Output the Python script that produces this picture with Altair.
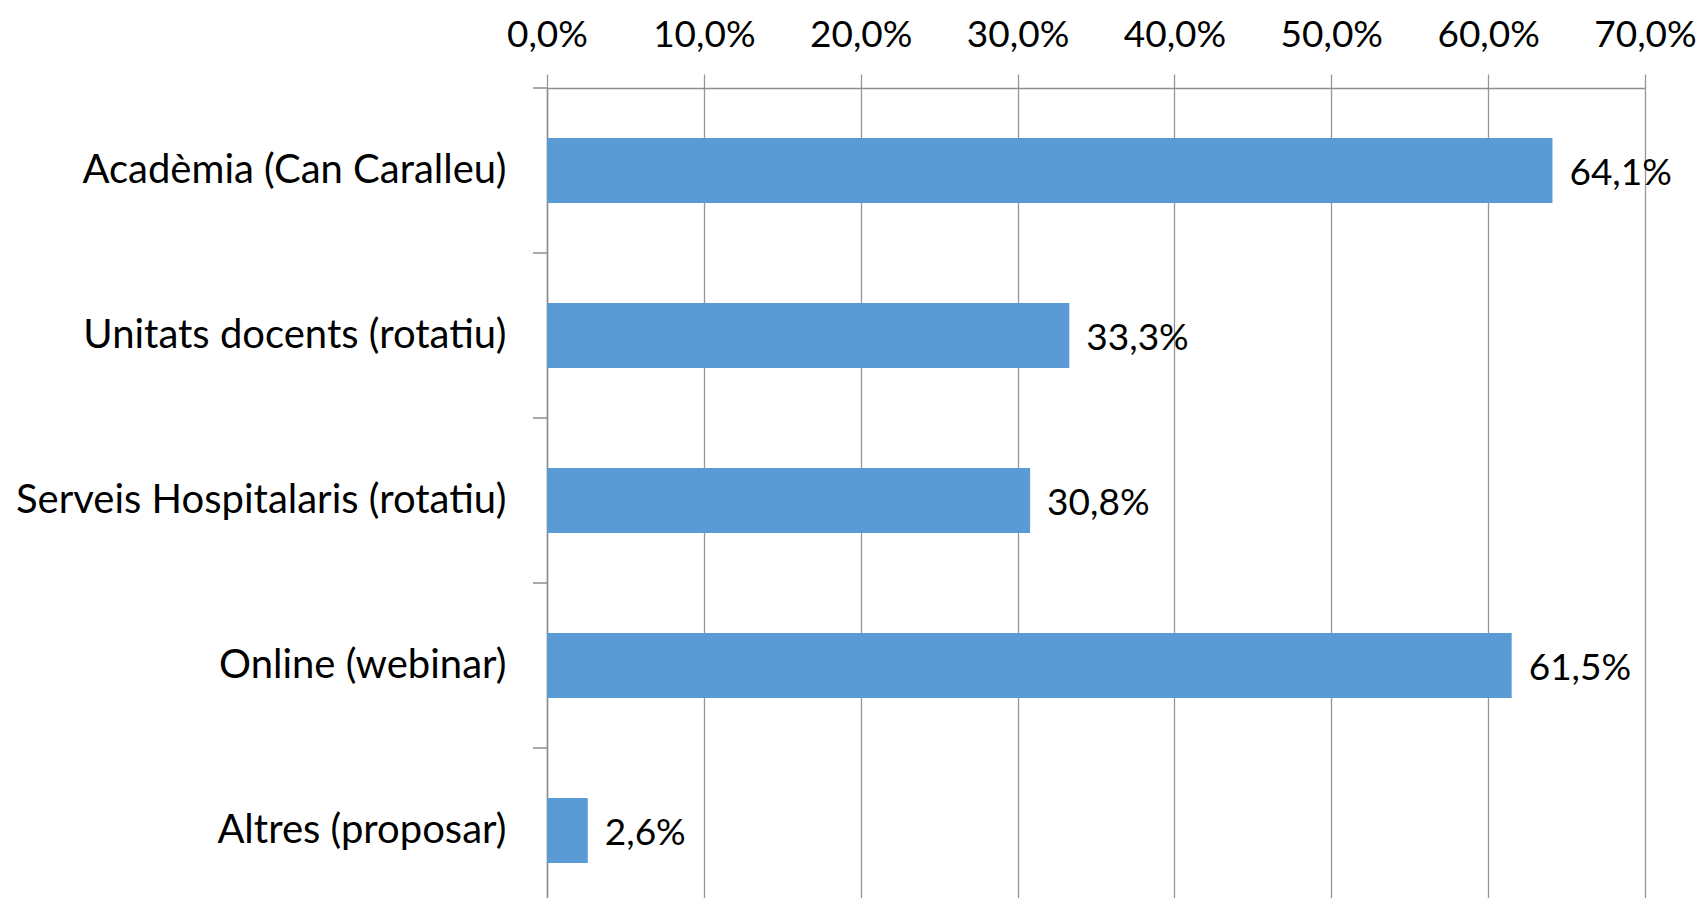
import altair as alt
import pandas as pd

categories = [
    "Acadèmia (Can Caralleu)",
    "Unitats docents (rotatiu)",
    "Serveis Hospitalaris (rotatiu)",
    "Online (webinar)",
    "Altres (proposar)",
]
values = [64.1, 33.3, 30.8, 61.5, 2.6]

df = pd.DataFrame({"cat": categories, "v": values})

FONT = "Lato"
FS = 37
GRID = "#969696"
AXIS = "#8e8e8e"

y_scale = alt.Scale(domain=categories, range=[0, 825], paddingInner=0, paddingOuter=0)
x_scale = alt.Scale(domain=[0, 70], nice=False, zero=True)

bars = alt.Chart(df).mark_bar(size=65, color="#5B9BD5").encode(
    x=alt.X(
        "v:Q",
        scale=x_scale,
        axis=alt.Axis(
            orient="top",
            title=None,
            values=[0, 10, 20, 30, 40, 50, 60, 70],
            labelExpr="replace(format(datum.value, '.1f'), '.', ',') + '%'",
            grid=True,
            gridColor=GRID,
            gridWidth=1.3,
            ticks=True,
            tickSize=14,
            tickColor=GRID,
            tickWidth=1.3,
            domain=True,
            domainColor=AXIS,
            domainWidth=1.5,
            labelFont=FONT,
            labelFontSize=FS,
            labelColor="#000000",
            labelPadding=20,
            labelFlush=False,
            labelOverlap=False,
        ),
    ),
    y=alt.Y(
        "cat:N",
        scale=y_scale,
        sort=categories,
        axis=alt.Axis(
            title=None,
            ticks=False,
            domain=True,
            domainColor=AXIS,
            domainWidth=1.5,
            labelFont=FONT,
            labelFontSize=40,
            labelColor="#000000",
            labelPadding=41,
            labelLimit=1000,
        ),
    ),
)

text = alt.Chart(df).transform_calculate(
    label="replace(format(datum.v, '.1f'), '.', ',') + '%'"
).mark_text(
    align="left", baseline="middle", dx=17, dy=3, font=FONT, fontSize=FS, color="#000000"
).encode(
    x=alt.X("v:Q", scale=x_scale),
    y=alt.Y("cat:N", scale=y_scale, sort=categories),
    text="label:N",
)

stubs = alt.Chart(df).mark_rule(color=AXIS, strokeWidth=1.5).encode(
    y=alt.Y("cat:N", scale=y_scale, sort=categories, bandPosition=0),
    x=alt.value(-14),
    x2=alt.value(0),
)

chart = alt.layer(bars, stubs, text).properties(
    width=1098,
    height=810,
    autosize=alt.AutoSizeParams(type="none"),
    padding={"left": 539, "top": 80, "right": 53, "bottom": 0},
).configure_view(stroke=None)

chart.save("out.html", embed_options={"renderer": "svg", "actions": False})
